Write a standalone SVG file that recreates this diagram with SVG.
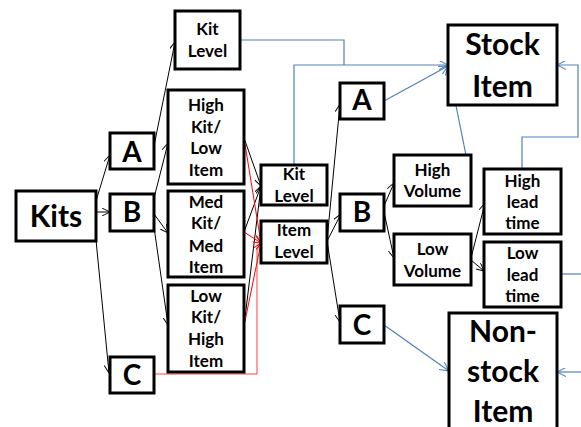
<svg xmlns="http://www.w3.org/2000/svg" width="581" height="427" viewBox="0 0 581 427">
<defs>
<style>
.box{fill:#fff;stroke:#000;stroke-width:3}
text{font-family:Lato,"Liberation Sans",sans-serif;font-weight:bold;text-anchor:middle;fill:#000}
.s{font-size:17px}
.xs{font-size:17px}
.l{font-size:28px}
.xl{font-size:30px}
.k{fill:none;stroke:#000;stroke-width:1}
.r{fill:none;stroke:#f00;stroke-width:1}
.b{fill:none;stroke:#4f81bd;stroke-width:1.2}
</style>
<marker id="ak" viewBox="0 0 10 10" refX="10" refY="5" markerWidth="8" markerHeight="8" markerUnits="userSpaceOnUse" orient="auto"><path d="M0,0 L10,5 L0,10" fill="none" stroke="#000" stroke-width="1.2"/></marker>
<marker id="ar" viewBox="0 0 10 10" refX="10" refY="5" markerWidth="8" markerHeight="8" markerUnits="userSpaceOnUse" orient="auto"><path d="M0,0 L10,5 L0,10" fill="none" stroke="#f00" stroke-width="1.2"/></marker>
<marker id="ab" viewBox="0 0 10 10" refX="10" refY="5" markerWidth="9" markerHeight="9" markerUnits="userSpaceOnUse" orient="auto"><path d="M0,0 L10,5 L0,10" fill="none" stroke="#4f81bd" stroke-width="1.2"/></marker>
</defs>
<g id="connectors">
<path class="k" d="M96,201 L110,155" marker-end="url(#ak)"/>
<path class="k" d="M96,212 L110,212" marker-end="url(#ak)"/>
<path class="k" d="M96,240 L109,373" marker-end="url(#ak)"/>
<path class="k" d="M154,146 L175,42" marker-end="url(#ak)"/>
<path class="k" d="M154,198 L168,143" marker-end="url(#ak)"/>
<path class="k" d="M154,214 L168,233" marker-end="url(#ak)"/>
<path class="k" d="M154,227 L168,325" marker-end="url(#ak)"/>
<path class="k" d="M244,138 L261,186" marker-end="url(#ak)"/>
<path class="k" d="M244,232 L261,186" marker-end="url(#ak)"/>
<path class="k" d="M244,326 L261,186" marker-end="url(#ak)"/>
<path class="k" d="M327,241 L340,104" marker-end="url(#ak)"/>
<path class="k" d="M327,241 L341,214" marker-end="url(#ak)"/>
<path class="k" d="M327,241 L340,322" marker-end="url(#ak)"/>
<path class="k" d="M384,206 L394,183" marker-end="url(#ak)"/>
<path class="k" d="M384,212 L394,258" marker-end="url(#ak)"/>
<path class="k" d="M471,258 L485,203" marker-end="url(#ak)"/>
<path class="k" d="M471,260 L484,271" marker-end="url(#ak)"/>
<path class="r" d="M244,138 L261,243" marker-end="url(#ar)"/>
<path class="r" d="M244,232 L261,243" marker-end="url(#ar)"/>
<path class="r" d="M244,326 L261,243" marker-end="url(#ar)"/>
<path class="r" d="M154,374 H257 V250 L261,243" marker-end="url(#ar)" stroke-opacity="0.75"/>
<path class="b" d="M240,40 H344 V65"/>
<path class="b" d="M294,165 V65 H448" marker-end="url(#ab)"/>
<path class="b" d="M384,101 L448,66" marker-end="url(#ab)"/>
<path class="b" d="M471,180 L448,66" marker-end="url(#ab)"/>
<path class="b" d="M522,169 V137 H578 V65 H557" marker-end="url(#ab)"/>
<path class="b" d="M384,325 L449,371" marker-end="url(#ab)"/>
<path class="b" d="M561,274 H581"/>
<path class="b" d="M581,372 H557" marker-end="url(#ab)"/>
</g>
<g id="kits"><rect class="box" x="16" y="191" width="80" height="50"/><text class="xl" x="56" y="227">Kits</text></g>
<g id="a1"><rect class="box" x="110" y="133" width="44" height="36"/><text class="l" x="132" y="162">A</text></g>
<g id="b1"><rect class="box" x="110" y="194" width="44" height="37"/><text class="l" x="132" y="222">B</text></g>
<g id="c1"><rect class="box" x="110" y="357" width="44" height="36"/><text class="l" x="132" y="385">C</text></g>
<g id="kitlevel1"><rect class="box" x="175" y="11" width="65" height="58"/><text class="xs" x="207.5" y="35">Kit</text><text class="xs" x="207.5" y="57">Level</text></g>
<g id="highkit"><rect class="box" x="168" y="90" width="76" height="94"/><text class="s" x="206" y="111">High</text><text class="s" x="206" y="133">Kit/</text><text class="s" x="206" y="154">Low</text><text class="s" x="206" y="176">Item</text></g>
<g id="medkit"><rect class="box" x="168" y="191" width="76" height="86"/><text class="s" x="206" y="208">Med</text><text class="s" x="206" y="229">Kit/</text><text class="s" x="206" y="252">Med</text><text class="s" x="206" y="273">Item</text></g>
<g id="lowkit"><rect class="box" x="168" y="285" width="76" height="87"/><text class="s" x="206" y="302">Low</text><text class="s" x="206" y="323">Kit/</text><text class="s" x="206" y="345">High</text><text class="s" x="206" y="367">Item</text></g>
<g id="kitlevel2"><rect class="box" x="261" y="165" width="66" height="40"/><text class="xs" x="294" y="180">Kit</text><text class="xs" x="294" y="202">Level</text></g>
<g id="itemlevel"><rect class="box" x="261" y="221" width="66" height="42"/><text class="xs" x="294" y="236">Item</text><text class="xs" x="294" y="258">Level</text></g>
<g id="a2"><rect class="box" x="340" y="83" width="44" height="36"/><text class="l" x="362" y="110">A</text></g>
<g id="b2"><rect class="box" x="340" y="194" width="44" height="37"/><text class="l" x="362" y="222">B</text></g>
<g id="c2"><rect class="box" x="340" y="306" width="44" height="37"/><text class="l" x="362" y="335">C</text></g>
<g id="highvol"><rect class="box" x="394" y="155" width="77" height="51"/><text class="xs" x="432.5" y="176">High</text><text class="xs" x="432.5" y="197">Volume</text></g>
<g id="lowvol"><rect class="box" x="394" y="234" width="77" height="51"/><text class="xs" x="432.5" y="255">Low</text><text class="xs" x="432.5" y="277">Volume</text></g>
<g id="highlead"><rect class="box" x="484" y="169" width="77" height="65"/><text class="xs" x="522.5" y="187">High</text><text class="xs" x="522.5" y="208">lead</text><text class="xs" x="522.5" y="229">time</text></g>
<g id="lowlead"><rect class="box" x="484" y="242" width="77" height="65"/><text class="xs" x="522.5" y="259">Low</text><text class="xs" x="522.5" y="281">lead</text><text class="xs" x="522.5" y="302">time</text></g>
<g id="stock"><rect class="box" x="448" y="25" width="109" height="80"/><text class="xl" x="502.5" y="55">Stock</text><text class="xl" x="502.5" y="97">Item</text></g>
<g id="nonstock"><rect class="box" x="449" y="313" width="108" height="130"/><text class="xl" x="503" y="342">Non-</text><text class="xl" x="503" y="382">stock</text><text class="xl" x="503" y="422">Item</text></g>
</svg>
